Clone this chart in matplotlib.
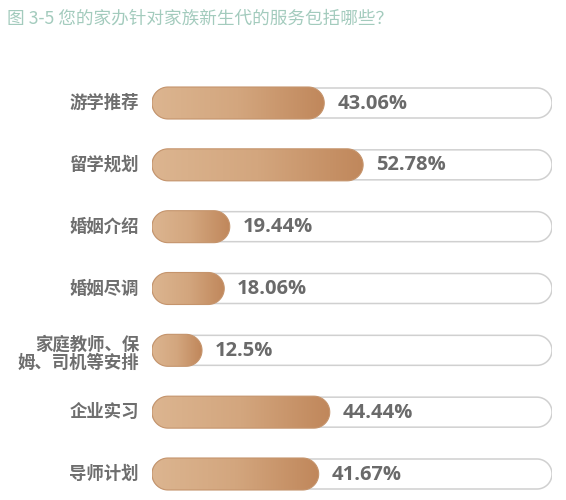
import numpy as np
import matplotlib
matplotlib.use("Agg")
import matplotlib.pyplot as plt
from matplotlib.patches import PathPatch
from matplotlib.path import Path
from matplotlib.colors import LinearSegmentedColormap

plt.rcParams['font.family'] = ['Noto Sans CJK SC', 'DejaVu Sans']

title = "图 3-5 您的家办针对家族新生代的服务包括哪些？"
categories = ["游学推荐", "留学规划", "婚姻介绍", "婚姻尽调",
              "家庭教师、保\n姆、司机等安排", "企业实习", "导师计划"]
values = [43.06, 52.78, 19.44, 18.06, 12.5, 44.44, 41.67]
value_labels = ["43.06%", "52.78%", "19.44%", "18.06%", "12.5%", "44.44%", "41.67%"]

W, H = 566, 500
fig = plt.figure(figsize=(W / 100, H / 100), dpi=100)
fig.patch.set_facecolor("white")

# layout in pixels
x0, x1 = 152, 552
row_top, row_bot = 103, 474
n = len(categories)
step = (row_bot - row_top) / (n - 1)
ax_top = row_top - step / 2
ax_bot = H
ax = fig.add_axes([x0 / W, 1 - ax_bot / H, (x1 - x0) / W, (ax_bot - ax_top) / H])
ax.set_xlim(0, 100)
ymax = (n - 1) + (ax_bot - row_bot) / step
ax.set_ylim(ymax, -0.5)
ax.axis("off")

px_x = (x1 - x0) / 100.0   # pixels per percent
px_y = step                 # pixels per row


def pill(xa, xb, yc, h_px):
    """Pill-shaped path (semicircular ends) in data coordinates."""
    rx = (h_px / 2) / px_x
    ry = (h_px / 2) / px_y
    rx = min(rx, (xb - xa) / 2)
    t1 = np.linspace(np.pi / 2, 3 * np.pi / 2, 40)   # left end
    t2 = np.linspace(-np.pi / 2, np.pi / 2, 40)      # right end
    left = np.column_stack([xa + rx + rx * np.cos(t1), yc + ry * np.sin(t1)])
    right = np.column_stack([xb - rx + rx * np.cos(t2), yc + ry * np.sin(t2)])
    verts = np.vstack([left, right, left[:1]])
    codes = [Path.MOVETO] + [Path.LINETO] * (len(verts) - 2) + [Path.CLOSEPOLY]
    return Path(verts, codes)


bar_h_px = 32
track_h_px = 30
bar_h = bar_h_px / px_y

cmap = LinearSegmentedColormap.from_list("tan", ["#dcb590", "#d3a67e", "#c0875b"])

for i, (v, lab) in enumerate(zip(values, value_labels)):
    track = PathPatch(pill(0, 100, i, track_h_px), facecolor="white",
                      edgecolor="#d0d0d0", linewidth=1.1, zorder=1)
    ax.add_patch(track)
    bar = PathPatch(pill(0, v, i, bar_h_px), facecolor="none",
                    edgecolor="#c5946c", linewidth=0.8, zorder=3)
    ax.add_patch(bar)
    grad = np.linspace(0, 1, 256).reshape(1, -1)
    im = ax.imshow(grad, extent=(0, v, i + bar_h / 2, i - bar_h / 2),
                   cmap=cmap, aspect="auto", zorder=2, interpolation="bilinear")
    im.set_clip_path(bar)
    ax.text(v + 13 / px_x, i + 0.01, lab, ha="left", va="center", fontsize=14.5,
            fontweight="bold", color="#6a6a6a",
            family=["Open Sans", "DejaVu Sans"], zorder=4)
    multi = "\n" in categories[i]
    ax.text(-13 / px_x, i + (0.05 if multi else 0), categories[i],
            ha="right", va="center", fontsize=12.5, fontweight="bold",
            color="#6e6e6e", linespacing=1.0, zorder=4, clip_on=False)

ax.set_ylim(ymax, -0.5)
ax.set_xlim(0, 100)

fig.text(7 / W, 1 - 19 / H, title, ha="left", va="center",
         fontsize=12.7, color="#a3cbbd")

fig.savefig("out.png", dpi=100, facecolor="white")
